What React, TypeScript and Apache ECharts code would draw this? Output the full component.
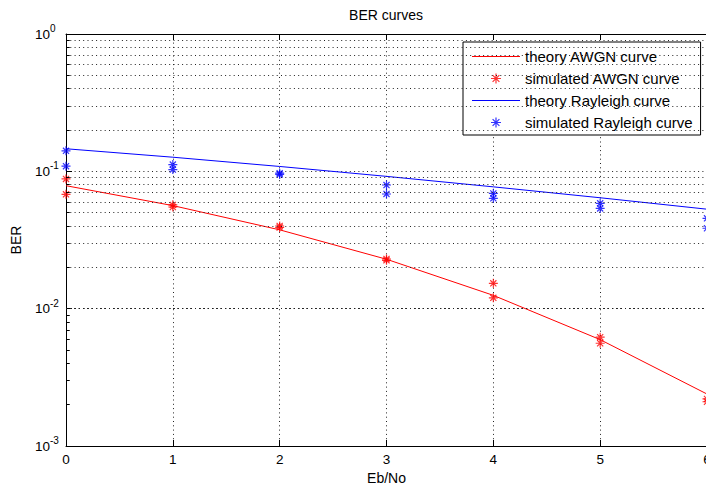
import React, { useEffect, useRef } from "react";
import * as echarts from "echarts";

const xValues = [0, 1, 2, 3, 4, 5, 6];
const theoryAwgn = [0.0786, 0.0563, 0.0375, 0.0229, 0.0125, 0.00595, 0.00239];
const theoryRayleigh = [0.146, 0.1267, 0.1085, 0.0919, 0.0771, 0.0642, 0.053];
const simAwgnA = [0.088, 0.057, 0.04, 0.023, 0.0153, 0.0062, 0.0022];
const simAwgnB = [0.068, 0.055, 0.039, 0.0225, 0.012, 0.0056, 0.0021];
const simRayleighA = [0.141, 0.112, 0.097, 0.0795, 0.0691, 0.0585, 0.0455];
const simRayleighB = [0.109, 0.103, 0.095, 0.0684, 0.0636, 0.0537, 0.0385];
const minorGridValues = [
  0.002, 0.003, 0.004, 0.005, 0.006, 0.007, 0.008, 0.009,
  0.02, 0.03, 0.04, 0.05, 0.06, 0.07, 0.08, 0.09,
  0.2, 0.3, 0.4, 0.5, 0.6, 0.7, 0.8, 0.9,
];
const seriesNames = [
  "theory AWGN curve",
  "simulated AWGN curve",
  "theory Rayleigh curve",
  "simulated Rayleigh curve",
];

const FONT = "'Liberation Sans', Arial, Helvetica, sans-serif";
const STAR = "path://M5,0L5,10M0,5L10,5M1.6,1.6L8.4,8.4M1.6,8.4L8.4,1.6";
const LINE_ICON = "path://M0,0L48,0L48,1L0,1Z";

export default function App() {
  const ref = useRef<HTMLDivElement>(null);

  useEffect(() => {
    if (!ref.current) return;
    const chart = echarts.init(ref.current, undefined, { renderer: "svg" });

    const pairs = (ys: number[]) => xValues.map((x, i) => [x, ys[i]]);
    const simPairs = (a: number[], b: number[]) => [...pairs(a), ...pairs(b)];

    const dotted = { type: [1, 3.3] as any, color: "#222", width: 1 };

    const option: any = {
      animation: false,
      backgroundColor: "#ffffff",
      title: {
        text: "BER curves",
        left: 386,
        top: 8,
        padding: 0,
        textAlign: "center",
        textStyle: { fontFamily: FONT, fontSize: 14, fontWeight: "normal", color: "#000" },
      },
      grid: {
        left: 66,
        width: 641,
        top: 34,
        height: 412,
        containLabel: false,
        outerBoundsMode: "none",
      },
      legend: {
        show: true,
        data: [
          { name: seriesNames[0], icon: LINE_ICON },
          { name: seriesNames[1] },
          { name: seriesNames[2], icon: LINE_ICON },
          { name: seriesNames[3] },
        ],
        orient: "vertical",
        left: 463,
        top: 42,
        padding: [7, 8, 5, 9],
        itemWidth: 48,
        itemHeight: 10,
        itemGap: 7,
        backgroundColor: "#ffffff",
        borderColor: "#000000",
        borderWidth: 1,
        borderRadius: 0,
        itemStyle: { borderWidth: 1.2 },
        textStyle: { fontFamily: FONT, fontSize: 15, color: "#000" },
      },
      xAxis: [
        {
          type: "value",
          min: 0,
          max: 6,
          interval: 1,
          name: "Eb/No",
          nameLocation: "middle",
          nameGap: 22,
          nameTextStyle: { fontFamily: FONT, fontSize: 14, color: "#000" },
          axisLine: { show: true, lineStyle: { color: "#000", width: 1 } },
          axisTick: { show: true, inside: true, length: 6, lineStyle: { color: "#000" } },
          axisLabel: { margin: 6, fontFamily: FONT, fontSize: 13.5, color: "#000" },
          splitLine: { show: true, lineStyle: dotted },
        },
        {
          type: "value",
          position: "top",
          min: 0,
          max: 6,
          interval: 1,
          axisLine: { show: true, lineStyle: { color: "#000", width: 1 } },
          axisTick: { show: true, inside: true, length: 6, lineStyle: { color: "#000" } },
          axisLabel: { show: false },
          splitLine: { show: false },
        },
      ],
      yAxis: {
        type: "log",
        logBase: 10,
        min: 0.001,
        max: 1,
        name: "BER",
        nameLocation: "middle",
        nameGap: 43,
        nameTextStyle: { fontFamily: FONT, fontSize: 14, color: "#000" },
        axisLine: { show: true, lineStyle: { color: "#000", width: 1 } },
        axisTick: { show: true, inside: true, length: 6, lineStyle: { color: "#000" } },
        axisLabel: {
          margin: 31,
          align: "left",
          formatter: (v: number) => {
            const e = Math.round(Math.log10(v));
            return `{b|10}{s|${e}}`;
          },
          rich: {
            b: { fontFamily: FONT, fontSize: 13.5, color: "#000", lineHeight: 14 },
            s: {
              fontFamily: FONT,
              fontSize: 10,
              color: "#000",
              lineHeight: 10,
              padding: [0, 0, 11, 0],
            },
          },
        },
        splitLine: { show: true, lineStyle: dotted },
      },
      series: [
        {
          name: "grid-minor",
          type: "line",
          data: [],
          silent: true,
          markLine: {
            silent: true,
            symbol: ["none", "none"],
            label: { show: false },
            lineStyle: dotted,
            data: [
              ...minorGridValues.map((v) => ({ yAxis: v })),
              ...minorGridValues.map((v) => [
                { coord: [0, v], lineStyle: { type: "solid", color: "#000", width: 1 } },
                { coord: [0.035, v] },
              ]),
            ],
          },
        },
        {
          name: seriesNames[0],
          type: "line",
          data: pairs(theoryAwgn),
          symbol: "none",
          showSymbol: false,
          lineStyle: { color: "#ff0000", width: 1 },
          itemStyle: { color: "#ff0000" },
        },
        {
          name: seriesNames[1],
          type: "scatter",
          data: simPairs(simAwgnA, simAwgnB),
          symbol: STAR,
          symbolSize: 9,
          itemStyle: { color: "#ff0000", borderColor: "#ff0000", borderWidth: 1.2 },
        },
        {
          name: seriesNames[2],
          type: "line",
          data: pairs(theoryRayleigh),
          symbol: "none",
          showSymbol: false,
          lineStyle: { color: "#0000ff", width: 1 },
          itemStyle: { color: "#0000ff" },
        },
        {
          name: seriesNames[3],
          type: "scatter",
          data: simPairs(simRayleighA, simRayleighB),
          symbol: STAR,
          symbolSize: 9,
          itemStyle: { color: "#0000ff", borderColor: "#0000ff", borderWidth: 1.2 },
        },
      ],
    };

    chart.setOption(option);
    return () => {
      chart.dispose();
    };
  }, []);

  return (
    <div
      ref={ref}
      style={{ position: "fixed", left: 0, top: 0, width: 706, height: 488, background: "#fff" }}
    />
  );
}
